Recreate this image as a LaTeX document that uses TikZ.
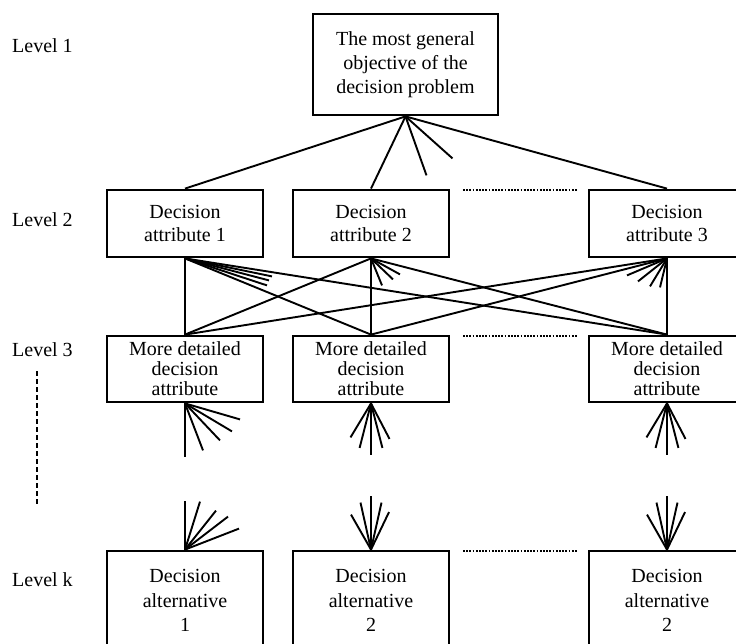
\documentclass[tikz,border=0pt]{standalone}
\usepackage{fontspec}
\setmainfont{Liberation Serif}
\begin{document}
\begin{tikzpicture}[x=1pt,y=-1pt,
  box/.style={draw, line width=2.8pt, align=center, inner sep=0pt, minimum width=156pt},
  topbox/.style={box, minimum width=185pt, minimum height=101pt, font=\fontsize{20}{24}\selectfont},
  attrbox/.style={box, minimum height=67pt, font=\fontsize{20}{23}\selectfont},
  detbox/.style={box, minimum height=66pt, font=\fontsize{20}{20}\selectfont},
  altbox/.style={box, minimum height=99pt, font=\fontsize{20}{24.5}\selectfont},
  lnk/.style={line width=1.9pt},
  lbl/.style={anchor=west, inner sep=0pt, font=\fontsize{20}{23}\selectfont},
  dotline/.style={line width=2.2pt, dash pattern=on 1.8pt off 1.4pt},
  levdash/.style={line width=2pt, dash pattern=on 5pt off 3pt}]
\useasboundingbox (0,0) rectangle (736,643);
\clip (0,0) rectangle (736,643);

% level labels
\node[lbl] (l1) at (12,46) {Level 1};
\node[lbl] (l2) at (12,220) {Level 2};
\node[lbl] (l3) at (12,350) {Level 3};
\node[lbl] (lk) at (12,580) {Level k};
\coordinate (dashtop) at (37,371);
\coordinate (dashbot) at (37,505);
\draw[levdash] (dashtop) -- (dashbot);

% boxes
\node[topbox] (top) at (405.5,64.5) {The most general\\objective of the\\decision problem};

\node[attrbox] (a1) at (185,223.5) {Decision\\attribute 1};
\node[attrbox] (a2) at (371,223.5) {Decision\\attribute 2};
\node[attrbox] (a3) at (667,223.5) {Decision\\attribute 3};

\node[detbox] (b1) at (185,369) {More detailed\\decision\\attribute};
\node[detbox] (b2) at (371,369) {More detailed\\decision\\attribute};
\node[detbox] (b3) at (667,369) {More detailed\\decision\\attribute};

\node[altbox] (c1) at (185,600.5) {Decision\\alternative\\1};
\node[altbox] (c2) at (371,600.5) {Decision\\alternative\\2};
\node[altbox] (c3) at (667,600.5) {Decision\\alternative\\2};

% dotted continuation marks
\coordinate (d2l) at (463,190); \coordinate (d2r) at (578,190);
\coordinate (d3l) at (463,336); \coordinate (d3r) at (578,336);
\coordinate (dkl) at (463,551); \coordinate (dkr) at (578,551);
\draw[dotline] (d2l) -- (d2r);
\draw[dotline] (d3l) -- (d3r);
\draw[dotline] (dkl) -- (dkr);

% level 1 -> level 2
\draw[lnk] (top.south) -- (a1.north);
\draw[lnk] (top.south) -- (a2.north);
\draw[lnk] (top.south) -- (a3.north);
\foreach \v in {(21,59),(47,42)} \draw[lnk] (top.south) -- ++\v;

% level 2 -> level 3
\foreach \a in {a1,a2,a3}{
  \foreach \b in {b1,b2,b3}{
    \draw[lnk] (\a.south) -- (\b.north);
  }
}
\foreach \v in {(87,18),(84,22),(82,27)} \draw[lnk] (a1.south) -- ++\v;
\foreach \v in {(29,16),(22,21),(11,27)} \draw[lnk] (a2.south) -- ++\v;
\foreach \v in {(-40,17),(-29,23),(-17,28),(-7,29)} \draw[lnk] (a3.south) -- ++\v;

% level 3 fans downward
\foreach \v in {(0,54),(18,47),(35,37),(47,28),(55,16)} \draw[lnk] (b1.south) -- ++\v;
\foreach \b in {b2,b3}{
  \foreach \v in {(-20.5,34),(-11.4,44.5),(0,52),(11.4,44.5),(18.5,35.5)} \draw[lnk] (\b.south) -- ++\v;
}

% level k fans upward
\foreach \v in {(0,-49),(15,-48),(31,-39),(43,-33),(54,-21)} \draw[lnk] (c1.north) -- ++\v;
\foreach \c in {c2,c3}{
  \foreach \v in {(-20,-35),(-10.5,-47),(0,-54),(10.5,-47),(18,-37.5)} \draw[lnk] (\c.north) -- ++\v;
}
\end{tikzpicture}
\end{document}
